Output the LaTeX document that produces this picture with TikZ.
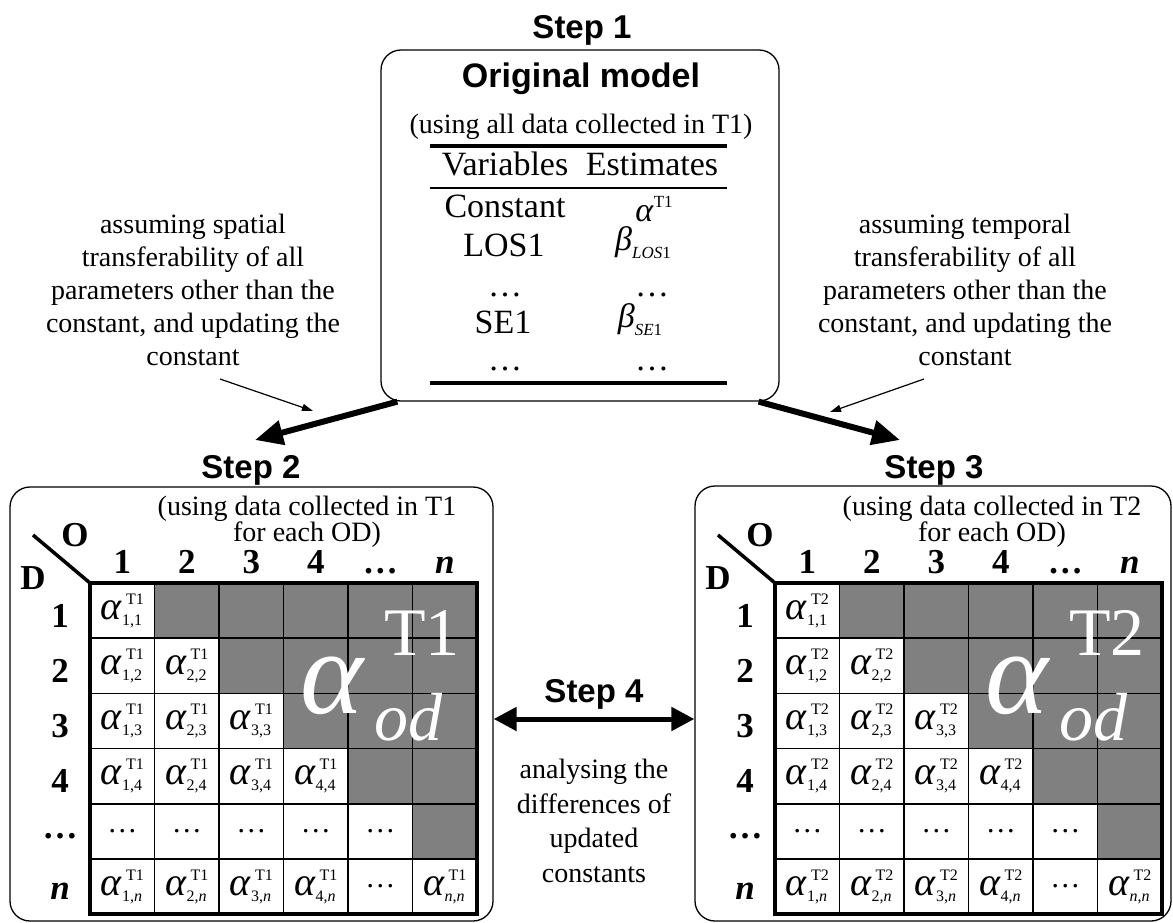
\documentclass[tikz,border=0pt]{standalone}
\usepackage{fontspec}
\setmainfont{Liberation Serif}
\setsansfont{Liberation Sans}
\usetikzlibrary{arrows.meta}

\definecolor{cellgray}{RGB}{128,128,128}

% alpha with stacked sup/sub for the OD cells
\newcommand{\alf}[2]{{\fontsize{40}{40}\selectfont\textit{α}}\raisebox{-6pt}{\fontsize{16}{21}\selectfont\begin{tabular}[b]{@{}l@{}}\kern4pt#1\\#2\end{tabular}}}

% one OD matrix, #1 = period
\newcommand{\odpanel}[1]{%
  \foreach \col/\collab in {1/1,2/2,3/3,4/4,5/…,6/\textit{n}}
    \node[hdr,anchor=base] (#1-c\col) at ({90+(\col-0.5)*64.5},573) {\collab};
  \foreach \row/\rowlab in {1/1,2/2,3/3,4/4,5/…,6/\textit{n}}{
    \node[hdr] (#1-r\row) at (60,{583+(\row-0.5)*55.2+5}) {\rowlab};
    \foreach \col/\collab in {1/1,2/2,3/3,4/4,5/…,6/\textit{n}}{
      \ifnum\col>\row
        \node[cell,fill=cellgray] (#1-\row-\col) at ({90+(\col-0.5)*64.5},{583+(\row-0.5)*55.2}) {};
      \else\ifnum\row=5
        \node[cell] (#1-\row-\col) at ({90+(\col-0.5)*64.5},{583+(\row-0.5)*55.2}) {…};
      \else\ifnum\col=5
        \node[cell] (#1-\row-\col) at ({90+(\col-0.5)*64.5},{583+(\row-0.5)*55.2}) {…};
      \else
        \node[cell] (#1-\row-\col) at ({90+(\col-0.5)*64.5},{583+(\row-0.5)*55.2}) {\alf{#1}{\collab,\rowlab}};
      \fi\fi\fi
    }
  }
  \draw[line width=4.5pt] (#1-1-1.north west) rectangle (#1-6-6.south east);
  \node[hdr] (#1-O) at (75,535) {O};
  \node[hdr] (#1-D) at (33,578) {D};
  \coordinate (#1-diag) at (33,535);
  \draw[line width=3.5pt] (#1-diag) -- (#1-1-1.north west);
  \node[txt,font=\fontsize{28}{26}\selectfont] (#1-note) at (307,522) {(using data collected in #1\\for each OD)};
  % big label over the grey part
  \node[bigtxt,anchor=base west] (#1-big) at (300,713) {\textit{α}};
  \node[midtxt,anchor=base west] (#1-bigsup) at (384,655) {#1};
  \node[midtxt,anchor=base west] (#1-bigsub) at (374,740) {\textit{od}};
}

\begin{document}
\begin{tikzpicture}[x=1pt,y=-1pt,
    panel/.style={draw,rounded corners=20pt,line width=1.3pt,inner sep=0pt},
    cell/.style={draw,line width=1.5pt,minimum width=64.5pt,minimum height=55.2pt,inner sep=0pt,outer sep=0pt,font=\fontsize{30}{30}\selectfont},
    hdr/.style={font=\bfseries\fontsize{35}{35}\selectfont,inner sep=0pt},
    txt/.style={font=\fontsize{28}{33}\selectfont,align=center,inner sep=0pt},
    tab/.style={font=\fontsize{34}{34}\selectfont,inner sep=0pt,anchor=base},
    steplab/.style={font=\sffamily\bfseries\fontsize{33}{33}\selectfont,inner sep=0pt,anchor=base},
    bigtxt/.style={text=white,font=\fontsize{120}{120}\selectfont,inner sep=0pt},
    midtxt/.style={text=white,font=\fontsize{68}{68}\selectfont,inner sep=0pt},
    bigarrow/.style={line width=6pt,-{Triangle[length=28pt,width=24pt]}},
    thinarrow/.style={line width=1.2pt,-{Triangle[length=11pt,width=7pt]}},
    dblarrow/.style={line width=5pt,{Triangle[length=23pt,width=23pt]}-{Triangle[length=23pt,width=23pt]}}]
    \useasboundingbox (0,0) rectangle (1173,922);

    % step 1
    \node[steplab] (s1) at (582,38) {Step 1};
    \node[panel,minimum width=398pt,minimum height=351pt] (box1) at (580,225.5) {};
    \node[font=\sffamily\bfseries\fontsize{34}{34}\selectfont,inner sep=0pt,anchor=base] (orig) at (581,87) {Original model};
    \node[txt,anchor=base] (alldata) at (581,133) {(using all data collected in T1)};
    \draw[line width=3.5pt] (430,146) -- (727,146);
    \node[tab] (varhd) at (505,175) {Variables};
    \node[tab] (esthd) at (652,175) {Estimates};
    \draw[line width=1.2pt] (430,188) -- (727,188);
    \node[tab] (v1) at (505,217) {Constant};
    \node[tab] (e1) at (654,221) {\textit{α}\raisebox{14pt}{\fontsize{17}{17}\selectfont T1}};
    \node[tab] (v2) at (504,256) {LOS1};
    \node[tab] (e2) at (643,250) {\textit{β}\raisebox{-8pt}{\fontsize{17}{17}\selectfont\textit{LOS}1}};
    \node[tab] (v3) at (505,296) {…};
    \node[tab] (e3) at (652,296) {…};
    \node[tab] (v4) at (503,333) {SE1};
    \node[tab] (e4) at (640,327) {\textit{β}\raisebox{-8pt}{\fontsize{17}{17}\selectfont\textit{SE}1}};
    \node[tab] (v5) at (505,370) {…};
    \node[tab] (e5) at (652,370) {…};
    \draw[line width=3.5pt] (430,383) -- (727,383);

    % notes beside step 1
    \node[txt] (spatial) at (193,290) {assuming spatial\\transferability of all\\parameters other than the\\constant, and updating the\\constant};
    \node[txt] (temporal) at (965,290) {assuming temporal\\transferability of all\\parameters other than the\\constant, and updating the\\constant};
    \coordinate (sp-from) at (220,379);
    \coordinate (sp-to) at (313,411);
    \coordinate (tp-from) at (924,379);
    \coordinate (tp-to) at (830,412);
    \draw[thinarrow] (sp-from) -- (sp-to);
    \draw[thinarrow] (tp-from) -- (tp-to);

    % steps 2 and 3
    \coordinate (s2tip) at (255,440);
    \coordinate (s3tip) at (900,440);
    \draw[bigarrow] ([xshift=17pt]box1.south west) -- (s2tip);
    \draw[bigarrow] ([xshift=-21pt]box1.south east) -- (s3tip);
    \node[steplab] (s2) at (251,478) {Step 2};
    \node[steplab] (s3) at (934,478) {Step 3};
    \node[panel,minimum width=483pt,minimum height=434pt] (box2) at (251.5,704) {};
    \node[panel,minimum width=476pt,minimum height=435pt] (box3) at (933,703.5) {};
    \begin{scope}
        \odpanel{T1}
    \end{scope}
    \begin{scope}[shift={(685,0)}]
        \odpanel{T2}
    \end{scope}

    % step 4
    \node[steplab] (s4) at (594,702) {Step 4};
    \coordinate (s4y) at (594,719);
    \draw[dblarrow] (box2.east |- s4y) -- (box3.west |- s4y);
    \node[txt,font=\fontsize{28}{34.5}\selectfont] (diffs) at (594,821) {analysing the\\differences of\\updated\\constants};
\end{tikzpicture}
\end{document}
